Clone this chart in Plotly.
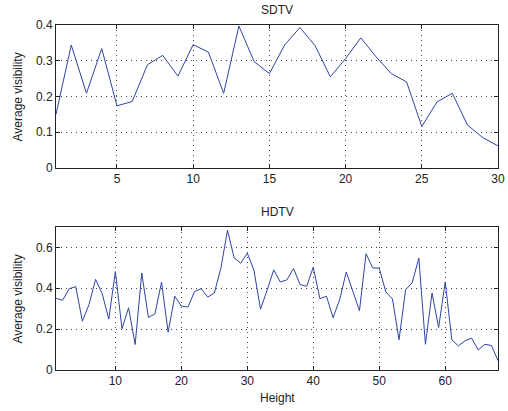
import plotly.graph_objects as go

sdtv_height = list(range(1, 31))
sdtv_vis = [0.150, 0.344, 0.209, 0.334, 0.174, 0.186, 0.289, 0.315, 0.257, 0.345,
            0.324, 0.209, 0.397, 0.298, 0.264, 0.344, 0.393, 0.342, 0.255, 0.306,
            0.364, 0.311, 0.264, 0.241, 0.116, 0.185, 0.209, 0.120, 0.085, 0.062]

hdtv_height = list(range(1, 69))
hdtv_vis = [0.351, 0.341, 0.398, 0.408, 0.239, 0.320, 0.444, 0.374, 0.249, 0.482,
            0.202, 0.305, 0.125, 0.475, 0.257, 0.275, 0.430, 0.185, 0.361, 0.313,
            0.308, 0.384, 0.398, 0.357, 0.377, 0.500, 0.684, 0.549, 0.523, 0.572,
            0.489, 0.298, 0.390, 0.490, 0.431, 0.441, 0.497, 0.418, 0.410, 0.503,
            0.349, 0.361, 0.256, 0.344, 0.480, 0.382, 0.290, 0.569, 0.500, 0.498,
            0.382, 0.348, 0.148, 0.393, 0.428, 0.548, 0.126, 0.377, 0.208, 0.431,
            0.148, 0.118, 0.143, 0.156, 0.098, 0.126, 0.120, 0.046]

sdtv_xticks = [5, 10, 15, 20, 25, 30]
sdtv_yticks = [0, 0.1, 0.2, 0.3, 0.4]
hdtv_xticks = [10, 20, 30, 40, 50, 60]
hdtv_yticks = [0, 0.2, 0.4, 0.6]

line_color = "#2d45a5"
font = dict(family="Liberation Sans, Arial, sans-serif", size=12, color="#222")

fig = go.Figure()
fig.add_trace(go.Scatter(x=sdtv_height, y=sdtv_vis, mode="lines",
                         line=dict(color=line_color, width=1), xaxis="x", yaxis="y"))
fig.add_trace(go.Scatter(x=hdtv_height, y=hdtv_vis, mode="lines",
                         line=dict(color=line_color, width=1), xaxis="x2", yaxis="y2"))

ax_common = dict(showline=True, linecolor="#222", linewidth=1, mirror="ticks",
                 ticks="inside", ticklen=4, tickcolor="#222",
                 showgrid=True, gridcolor="#444", griddash="1px,4px", gridwidth=1,
                 zeroline=False, tickfont=font, automargin=False)

fig.update_layout(
    width=508, height=411,
    margin=dict(l=56, r=10, t=25, b=41),
    paper_bgcolor="white", plot_bgcolor="white",
    showlegend=False,
    font=font,
    xaxis=dict(domain=[0, 1], range=[1, 30], tickvals=sdtv_xticks, anchor="y", **ax_common),
    yaxis=dict(domain=[0.5855, 1], range=[0, 0.4], tickvals=sdtv_yticks,
               ticktext=["0", "0.1", "0.2", "0.3", "0.4"], anchor="x", **ax_common),
    xaxis2=dict(domain=[0, 1], range=[1, 68], tickvals=hdtv_xticks, anchor="y2", **ax_common),
    yaxis2=dict(domain=[0, 0.4145], range=[0, 0.7], tickvals=hdtv_yticks,
                ticktext=["0", "0.2", "0.4", "0.6"], anchor="x2", **ax_common),
    annotations=[
        dict(text="SDTV", x=0.5, y=1.0435, xref="paper", yref="paper",
             xanchor="center", yanchor="middle", showarrow=False, font=font),
        dict(text="HDTV", x=0.5, y=0.458, xref="paper", yref="paper",
             xanchor="center", yanchor="middle", showarrow=False, font=font),
        dict(text="Average visibility", x=-0.086, y=0.7928, xref="paper", yref="paper",
             xanchor="center", yanchor="middle", textangle=-90, showarrow=False, font=font),
        dict(text="Average visibility", x=-0.086, y=0.2072, xref="paper", yref="paper",
             xanchor="center", yanchor="middle", textangle=-90, showarrow=False, font=font),
        dict(text="Height", x=0.5, y=-0.081, xref="paper", yref="paper",
             xanchor="center", yanchor="middle", showarrow=False, font=font),
    ],
)

fig.write_html("out.html",
               config={"displayModeBar": False},
               post_script="document.body.style.margin='0';document.body.style.padding='0';document.body.style.overflow='hidden';")
